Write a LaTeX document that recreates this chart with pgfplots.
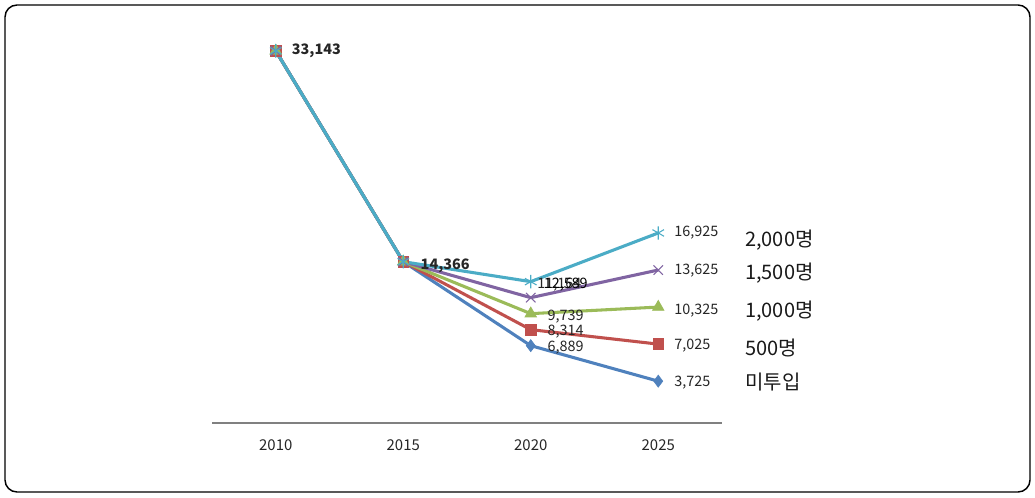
\documentclass[border=0pt]{standalone}
\usepackage{fontspec}
\setmainfont{Noto Sans CJK KR}
\usepackage{pgfplots}
\pgfplotsset{compat=1.18}
\definecolor{cBlue}{HTML}{4F81BD}
\definecolor{cRed}{HTML}{C0504D}
\definecolor{cGreen}{HTML}{9BBB59}
\definecolor{cPurple}{HTML}{8064A2}
\definecolor{cCyan}{HTML}{4BACC6}
\tikzset{
  lbl/.style={anchor=west, inner sep=0pt, font=\fontsize{10.8}{12}\selectfont, text=black!85},
  nm/.style={anchor=west, inner sep=0pt, font=\fontsize{15}{17}\selectfont, text=black!90},
}
\begin{document}
\begin{tikzpicture}
\path (0,0) rectangle (776.25pt,372.75pt);
\draw[rounded corners=9pt, line width=1.1pt] (3.75pt,3.75pt) rectangle (772.5pt,369pt);
\begin{axis}[
  at={(159pt,55.5pt)}, anchor=south west,
  scale only axis, width=382.5pt, height=294.75pt,
  xmin=-0.5, xmax=3.5, ymin=0, ymax=35000,
  axis x line*=bottom, hide y axis,
  x axis line style={color=black!50, line width=1.1pt},
  xtick={0,1,2,3}, xticklabels={2010,2015,2020,2025},
  major tick length=0pt,
  xticklabel style={font=\fontsize{11.2}{13}\selectfont, text=black!85, yshift=-9pt},
  ytick=\empty,
  clip=false,
  every axis plot/.append style={line width=2.3pt},
]
\addplot[cBlue, mark=diamond*, mark size=4.5pt, mark options={line width=0.5pt}] coordinates {(0,33143)(1,14366)(2,6889)(3,3725)};
\addplot[cRed, mark=square*, mark size=4pt, mark options={line width=0.5pt}] coordinates {(0,33143)(1,14366)(2,8314)(3,7025)};
\addplot[cGreen, mark=triangle*, mark size=5pt, mark options={line width=0.5pt}] coordinates {(0,33143)(1,14366)(2,9739)(3,10325)};
\addplot[cPurple, mark=x, mark size=5pt, mark options={line width=0.8pt}] coordinates {(0,33143)(1,14366)(2,11164)(3,13625)};
\addplot[cCyan, mark=asterisk, mark size=5pt, mark options={line width=0.8pt}] coordinates {(0,33143)(1,14366)(2,12589)(3,16925)};

\node[lbl, font=\fontsize{10.8}{12}\selectfont\bfseries] at (axis cs:0.125,33150) {33,143};
\node[lbl, font=\fontsize{10.8}{12}\selectfont\bfseries] at (axis cs:1.135,14044) {14,366};
\node[lbl] at (axis cs:2.05,12356) {11,164};
\node[lbl, text=black] at (axis cs:2.1,12356) {12,589};
\node[lbl] at (axis cs:2.13,9511) {9,739};
\node[lbl] at (axis cs:2.13,8178) {8,314};
\node[lbl] at (axis cs:2.13,6756) {6,889};
\node[lbl] at (axis cs:3.125,16978) {16,925};
\node[lbl] at (axis cs:3.125,13600) {13,625};
\node[lbl] at (axis cs:3.125,10044) {10,325};
\node[lbl] at (axis cs:3.125,6933) {7,025};
\node[lbl] at (axis cs:3.125,3556) {3,725};

\node[nm] at (axis cs:3.68,16267) {2,000명};
\node[nm] at (axis cs:3.68,13333) {1,500명};
\node[nm] at (axis cs:3.68,9956) {1,000명};
\node[nm] at (axis cs:3.68,6667) {500명};
\node[nm] at (axis cs:3.68,3644) {미투입};
\end{axis}
\end{tikzpicture}
\end{document}
